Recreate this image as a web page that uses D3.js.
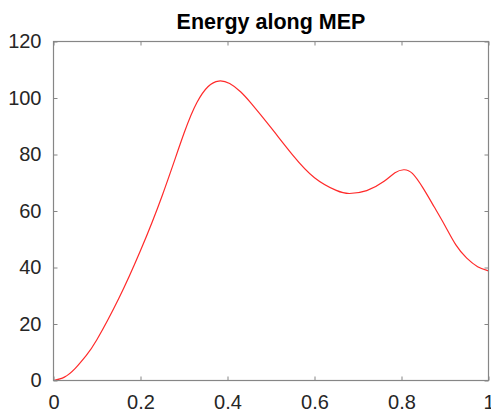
<!DOCTYPE html>
<html>
<head>
<meta charset="utf-8">
<script src="https://cdn.jsdelivr.net/npm/d3@7"></script>
<style>
  html, body { margin: 0; padding: 0; background: #fff; }
  svg { display: block; }
</style>
</head>
<body>
<svg id="chart" width="491" height="412"></svg>
<script>
const titleText = "Energy along MEP";
const pathCoord = [0, 0.025, 0.05, 0.075, 0.1, 0.15, 0.2, 0.25, 0.3, 0.33, 0.355, 0.38, 0.405, 0.43, 0.455, 0.5, 0.55, 0.6, 0.65, 0.68, 0.72, 0.76, 0.785, 0.805, 0.825, 0.85, 0.875, 0.9, 0.925, 0.95, 0.975, 1.0];
const energy    = [0, 1.2, 4.3, 8.8, 14.5, 29, 46, 65.5, 87.5, 98.5, 104, 106, 105.1, 102.2, 98, 89.5, 79.8, 71.8, 67.3, 66.2, 67.2, 70.5, 73.5, 74.6, 73.3, 68, 61.5, 54.8, 48.0, 43.3, 40.3, 38.8];
const xTicks = [0, 0.2, 0.4, 0.6, 0.8, 1];
const yTicks = [0, 20, 40, 60, 80, 100, 120];

const svg = d3.select("#chart");
const L = 53.5, R = 488.5, T = 41.5, B = 380.5;
const x = d3.scaleLinear().domain([0, 1]).range([L, R]);
const y = d3.scaleLinear().domain([0, 120]).range([B, T]);
const axisColor = "#868686";
const font = "'Liberation Sans', Arial, Helvetica, sans-serif";

const data = pathCoord.map((d, i) => ({ x: d, y: energy[i] }));

// curve
svg.append("path")
  .datum(data)
  .attr("fill", "none")
  .attr("stroke", "#ff2a2a")
  .attr("stroke-width", 1.2)
  .attr("d", d3.line().x(d => x(d.x)).y(d => y(d.y)).curve(d3.curveNatural));

const tickLen = 4;
function styleAxis(g) {
  g.select(".domain").remove();
  g.selectAll(".tick line").attr("stroke", axisColor);
  g.selectAll(".tick text").attr("fill", "#262626").attr("font-family", font).attr("font-size", 20);
}

// bottom
svg.append("g").attr("transform", `translate(0,${B})`)
  .call(d3.axisBottom(x).tickValues(xTicks).tickFormat(d3.format("~g")).tickSizeInner(-tickLen).tickSizeOuter(0).tickPadding(14))
  .call(styleAxis);
// top (ticks only)
svg.append("g").attr("transform", `translate(0,${T})`)
  .call(d3.axisTop(x).tickValues(xTicks).tickFormat("").tickSizeInner(-tickLen).tickSizeOuter(0))
  .call(styleAxis);
// left
svg.append("g").attr("transform", `translate(${L},0)`)
  .call(d3.axisLeft(y).tickValues(yTicks).tickFormat(d3.format("d")).tickSizeInner(-tickLen).tickSizeOuter(0).tickPadding(12))
  .call(styleAxis);
// right (ticks only)
svg.append("g").attr("transform", `translate(${R},0)`)
  .call(d3.axisRight(y).tickValues(yTicks).tickFormat("").tickSizeInner(-tickLen).tickSizeOuter(0))
  .call(styleAxis);

// box
svg.append("rect")
  .attr("x", L).attr("y", T).attr("width", R - L).attr("height", B - T)
  .attr("fill", "none").attr("stroke", axisColor).attr("stroke-width", 1.2);

// title
svg.append("text")
  .attr("x", (L + R) / 2).attr("y", 29)
  .attr("text-anchor", "middle")
  .attr("font-family", font).attr("font-weight", "bold").attr("font-size", 21.5)
  .attr("fill", "#000")
  .text(titleText);
</script>
</body>
</html>
